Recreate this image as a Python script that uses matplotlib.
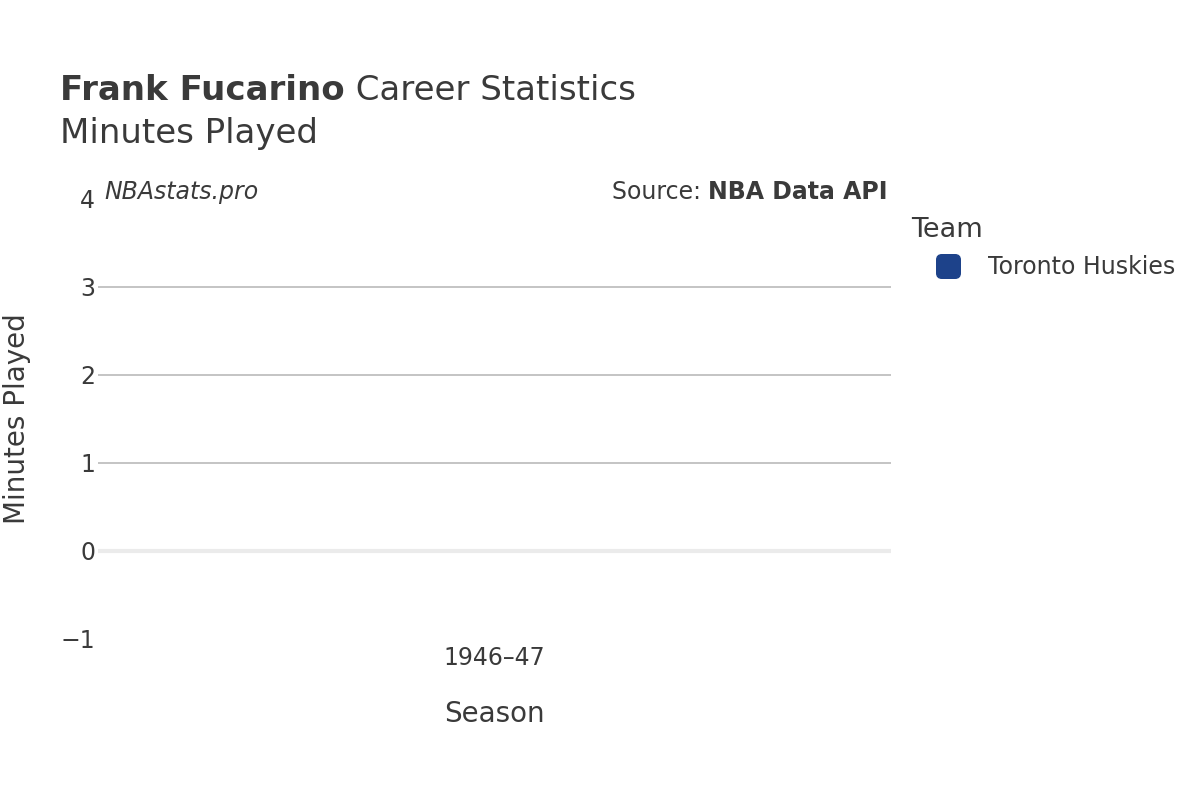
import matplotlib
matplotlib.use("Agg")
import matplotlib.pyplot as plt
from matplotlib.lines import Line2D
from matplotlib.patches import FancyBboxPatch

seasons = ["1946\u201347"]
minutes = [0]
team = "Toronto Huskies"
team_color = "#1D428A"
y_ticks = [-1, 0, 1, 2, 3, 4]

TXT = "#3a3a3a"
plt.rcParams['font.family'] = ['DejaVu Sans']

fig = plt.figure(figsize=(12, 8), dpi=100)
ax = fig.add_axes([98/1200, 1 - 639/800, (891 - 98)/1200, (639 - 199)/800])

ax.bar(range(len(seasons)), minutes, color=team_color, width=0.8, label=team, zorder=3)

ax.set_xlim(-0.5, len(seasons) - 0.5)
ax.set_ylim(-1, 4)
ax.set_yticks(y_ticks)
ax.set_yticklabels([("\u2212" + str(-v)) if v < 0 else str(v) for v in y_ticks])
ax.set_xticks(range(len(seasons)))
ax.set_xticklabels(seasons)
for v in y_ticks:
    if v in (1, 2, 3):
        ax.axhline(v, color="#c4c4c4", lw=1.4, zorder=1)
ax.axhline(0, color="#ebebeb", lw=3, zorder=2)

for s in ax.spines.values():
    s.set_visible(False)
ax.tick_params(axis='both', length=0, labelsize=17, colors=TXT)
ax.tick_params(axis='y', pad=2)
ax.tick_params(axis='x', pad=5)

ax.set_xlabel("Season", fontsize=20, color=TXT, labelpad=22)
fig.text(17/1200, 1 - 419/800, "Minutes Played", rotation=90, fontsize=20,
         color=TXT, ha='center', va='center')

t1 = fig.text(60/1200, 1 - 90/800, "Frank Fucarino", fontsize=24.5, color=TXT,
              ha='left', va='center', fontweight='bold')
fig.canvas.draw()
bb = t1.get_window_extent()
fig.text((bb.x1) / 1200, 1 - 90/800, " Career Statistics", fontsize=24.5, color=TXT,
         ha='left', va='center')
fig.text(60/1200, 1 - 133/800, "Minutes Played", fontsize=24.5, color=TXT,
         ha='left', va='center')

fig.text(104/1200, 1 - 192/800, "NBAstats.pro", fontsize=17, color=TXT,
         style='italic', ha='left', va='center')
s2 = fig.text(888/1200, 1 - 192/800, "NBA Data API", fontsize=17, color=TXT,
              fontweight='bold', ha='right', va='center')
fig.canvas.draw()
bb2 = s2.get_window_extent()
fig.text(bb2.x0 / 1200, 1 - 192/800, "Source: ", fontsize=17, color=TXT,
         ha='right', va='center')

rbox = FancyBboxPatch((-0.5, -0.5), 1, 1, boxstyle="round,pad=0,rounding_size=0.22")
rmarker = rbox.get_path()
handle = Line2D([0], [0], marker=rmarker, linestyle='none', markersize=17,
                markerfacecolor=team_color, markeredgecolor=team_color)
leg = fig.legend([handle], [team], title="Team", loc='upper left',
                 bbox_to_anchor=(902/1200, 1 - 208/800), frameon=False,
                 fontsize=17, title_fontsize=19.5, handlelength=3.1,
                 handletextpad=0.15, borderaxespad=0)
leg._legend_box.align = "left"
for t in leg.get_texts():
    t.set_color(TXT)
leg.get_title().set_color(TXT)

fig.savefig("out.png", dpi=100, facecolor='white')
